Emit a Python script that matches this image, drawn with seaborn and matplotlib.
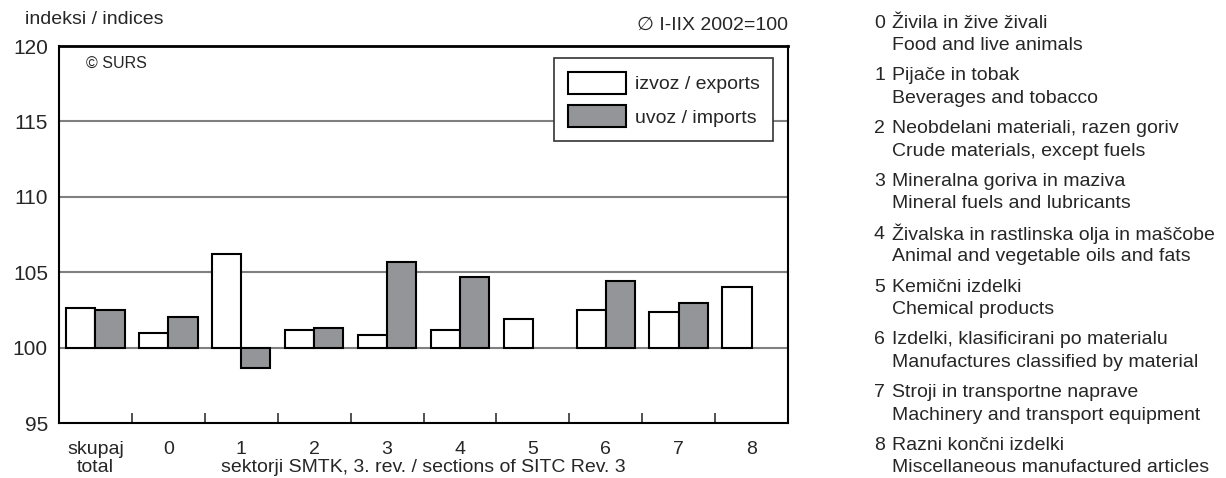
import numpy as np
import pandas as pd
import matplotlib
matplotlib.use('Agg')
import matplotlib.pyplot as plt
from matplotlib.patches import Patch
import seaborn as sns

categories = ['skupaj\ntotal', '0', '1', '2', '3', '4', '5', '6', '7', '8']
exports = [102.65, 101.0, 106.2, 101.2, 100.85, 101.2, 101.9, 102.5, 102.35, 104.0]
imports = [102.5, 102.05, 98.65, 101.3, 105.7, 104.7, np.nan, 104.4, 102.95, np.nan]
series = ['izvoz / exports', 'uvoz / imports']
colors = ['#ffffff', '#939598']

sections = [
    ('0', 'Živila in žive živali', 'Food and live animals'),
    ('1', 'Pijače in tobak', 'Beverages and tobacco'),
    ('2', 'Neobdelani materiali, razen goriv', 'Crude materials, except fuels'),
    ('3', 'Mineralna goriva in maziva', 'Mineral fuels and lubricants'),
    ('4', 'Živalska in rastlinska olja in maščobe', 'Animal and vegetable oils and fats'),
    ('5', 'Kemični izdelki', 'Chemical products'),
    ('6', 'Izdelki, klasificirani po materialu', 'Manufactures classified by material'),
    ('7', 'Stroji in transportne naprave', 'Machinery and transport equipment'),
    ('8', 'Razni končni izdelki', 'Miscellaneous manufactured articles'),
]

df = pd.DataFrame({
    'cat': categories * 2,
    'series': [series[0]] * len(categories) + [series[1]] * len(categories),
    'value': exports + imports,
})
df['dev'] = df['value'] - 100

sns.set_style('white')
plt.rcParams['font.family'] = ['Liberation Sans', 'DejaVu Sans']
fs = 14

fig = plt.figure(figsize=(12.26, 4.78), dpi=100)
ax = fig.add_axes([59 / 1226, 55 / 478, 729 / 1226, 377 / 478])

for y in [100, 105, 110, 115]:
    ax.axhline(y, color='#808080', lw=1.5, zorder=0)

sns.barplot(data=df, x='cat', y='dev', hue='series', order=categories,
            hue_order=series, palette=colors, bottom=100, width=0.8,
            edgecolor='black', linewidth=1.5, errorbar=None, legend=False,
            saturation=1, ax=ax, zorder=2)

ax.set_ylim(95, 120)
ax.set_xlim(-0.5, len(categories) - 0.5)
ax.set_yticks([95, 100, 105, 110, 115, 120])
ax.tick_params(axis='y', length=0, labelsize=15, pad=8)
ax.tick_params(axis='x', which='major', length=0, labelsize=fs, pad=13)
for lab in ax.get_xticklabels():
    lab.set_linespacing(1.05)
ax.set_xticks(np.arange(0.5, len(categories) - 1, 1), minor=True)
ax.tick_params(axis='x', which='minor', bottom=True, direction='in', length=7,
               width=1.2, color='#333333')
ax.set_xlabel('sektorji SMTK, 3. rev. / sections of SITC Rev. 3', fontsize=fs)
ax.xaxis.set_label_coords(0.5, -0.096)
ax.set_ylabel('')
for s in ax.spines.values():
    s.set_visible(True)
    s.set_color('black')
    s.set_linewidth(1.5)
ax.spines['top'].set_linewidth(2)

handles = [Patch(facecolor=c, edgecolor='black', linewidth=1.5) for c in colors]
leg = ax.legend(handles, series, loc='upper right', bbox_to_anchor=(0.98, 0.968),
                borderaxespad=0, fancybox=False, framealpha=1, edgecolor='#333333',
                handlelength=3.0, handleheight=1.35, fontsize=fs,
                borderpad=0.7, labelspacing=0.6, handletextpad=0.45)
leg.get_frame().set_linewidth(1.2)

ax.text(0.037, 0.955, '© SURS', transform=ax.transAxes, fontsize=11.5,
        va='center', ha='left')
fig.text(25 / 1226, 1 - 20 / 478, 'indeksi / indices', fontsize=fs,
         va='center', ha='left')
fig.text(788 / 1226, 1 - 25 / 478, '∅ I-IIX 2002=100', fontsize=fs,
         va='center', ha='right')

for i, (num, sl, en) in enumerate(sections):
    y1 = 23 + i * 52.8
    fig.text(874 / 1226, 1 - y1 / 478, num, fontsize=fs, va='center', ha='left')
    fig.text(892 / 1226, 1 - y1 / 478, sl, fontsize=fs, va='center', ha='left')
    fig.text(892 / 1226, 1 - (y1 + 22.5) / 478, en, fontsize=fs,
             va='center', ha='left')

fig.savefig('out.png', dpi=100)
